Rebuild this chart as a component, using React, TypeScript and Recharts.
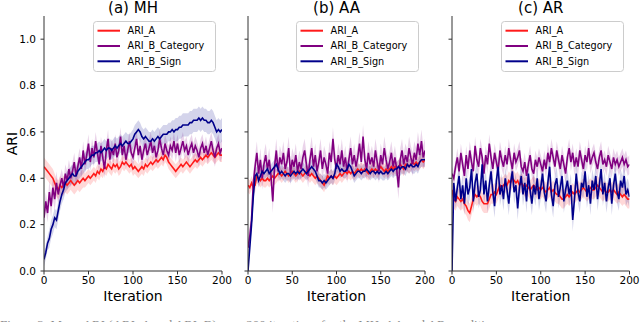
import React from 'react';
import { ComposedChart, Line, Area, XAxis, YAxis, Legend } from 'recharts';

const FONT = 'DejaVu Sans, Verdana, sans-serif';

// iterations (every 2nd iteration)
const ITER = [
  0, 2, 4, 6, 8, 10, 12, 14, 16, 18,
  20, 22, 24, 26, 28, 30, 32, 34, 36, 38,
  40, 42, 44, 46, 48, 50, 52, 54, 56, 58,
  60, 62, 64, 66, 68, 70, 72, 74, 76, 78,
  80, 82, 84, 86, 88, 90, 92, 94, 96, 98,
  100, 102, 104, 106, 108, 110, 112, 114, 116, 118,
  120, 122, 124, 126, 128, 130, 132, 134, 136, 138,
  140, 142, 144, 146, 148, 150, 152, 154, 156, 158,
  160, 162, 164, 166, 168, 170, 172, 174, 176, 178,
  180, 182, 184, 186, 188, 190, 192, 194, 196, 198,
  200,
];

const X_TICKS = [0, 50, 100, 150, 200];
const Y_TICKS = [0, 0.2, 0.4, 0.6, 0.8, 1.0];
const SERIES_NAMES = ['ARI_A', 'ARI_B_Category', 'ARI_B_Sign'];
const COLORS = ['#ff1a1a', '#800080', '#00008b'];

// ---------- (a) MH ----------
const MH_A = [
  .45, .44, .43, .42, .41, .40, .38, .36, .35, .37,
  .36, .37, .38, .37, .38, .39, .38, .37, .38, .39,
  .38, .39, .40, .39, .40, .41, .40, .41, .42, .41,
  .43, .42, .44, .43, .45, .44, .46, .45, .44, .46,
  .45, .46, .44, .45, .47, .46, .47, .46, .45, .46,
  .44, .45, .44, .43, .44, .45, .44, .46, .45, .46,
  .47, .46, .47, .48, .47, .48, .49, .48, .50, .49,
  .47, .46, .45, .44, .43, .44, .45, .46, .45, .46,
  .47, .46, .45, .46, .47, .48, .47, .48, .49, .48,
  .49, .50, .49, .50, .51, .50, .49, .50, .51, .50,
  .50,
];
const MH_CAT = [
  .23, .30, .25, .34, .28, .36, .31, .38, .33, .37,
  .40, .36, .42, .39, .44, .40, .43, .47, .41, .45,
  .49, .44, .52, .46, .50, .55, .47, .53, .49, .56,
  .51, .46, .54, .49, .44, .52, .57, .48, .53, .50,
  .55, .49, .52, .58, .50, .54, .48, .52, .56, .51,
  .49, .53, .57, .50, .54, .48, .52, .55, .50, .53,
  .56, .51, .54, .49, .52, .57, .53, .50, .55, .52,
  .50, .54, .52, .56, .51, .55, .50, .53, .56, .52,
  .54, .50, .53, .55, .51, .54, .52, .49, .53, .55,
  .51, .54, .50, .53, .56, .52, .49, .53, .55, .51,
  .53,
];
const MH_SIGN = [
  .05, .08, .12, .14, .18, .20, .23, .22, .26, .30,
  .33, .35, .38, .39, .40, .41, .42, .41, .41, .43,
  .44, .45, .46, .47, .48, .48, .49, .50, .50, .51,
  .51, .52, .51, .52, .53, .52, .53, .53, .52, .53,
  .54, .53, .54, .55, .54, .55, .56, .55, .55, .56,
  .57, .59, .60, .61, .60, .58, .57, .58, .57, .56,
  .56, .57, .56, .57, .58, .57, .58, .59, .59, .59,
  .60, .60, .61, .60, .61, .61, .62, .62, .63, .63,
  .63, .63, .64, .64, .65, .65, .65, .66, .65, .66,
  .65, .65, .64, .64, .65, .64, .62, .60, .61, .60,
  .61,
];
// spread per 10 iterations
const MH_A_SD = [.04, .04, .04, .04, .04, .03, .03, .03, .03, .03, .03, .03, .03, .03, .03, .03, .03, .03, .03, .03, .03];
const MH_CAT_SD = [.04, .05, .04, .04, .04, .04, .04, .04, .04, .04, .04, .04, .04, .04, .04, .04, .04, .04, .04, .04, .04];
const MH_SIGN_SD = [.03, .04, .04, .04, .04, .04, .04, .04, .04, .04, .04, .04, .04, .04, .04, .05, .05, .05, .05, .05, .05];

// ---------- (b) AA ----------
const AA_A = [
  .37, .36, .38, .36, .37, .41, .40, .39, .40, .39,
  .39, .40, .39, .40, .41, .40, .41, .42, .42, .41,
  .42, .43, .42, .41, .42, .43, .42, .41, .42, .43,
  .42, .41, .42, .43, .42, .41, .42, .41, .40, .41,
  .40, .39, .38, .37, .39, .41, .40, .41, .40, .41,
  .40, .41, .42, .41, .42, .43, .42, .43, .42, .43,
  .42, .43, .44, .43, .44, .43, .44, .43, .42, .43,
  .44, .43, .44, .43, .44, .45, .44, .43, .44, .43,
  .44, .45, .44, .45, .44, .45, .46, .45, .44, .46,
  .46, .45, .46, .47, .46, .47, .46, .47, .48, .47,
  .48,
];
const AA_CAT = [
  .10, .15, .22, .38, .45, .51, .42, .48, .40, .46,
  .50, .44, .48, .41, .30, .45, .52, .43, .49, .46,
  .51, .44, .47, .53, .42, .48, .45, .50, .43, .47,
  .44, .49, .52, .46, .41, .48, .53, .45, .50, .43,
  .47, .52, .44, .49, .46, .42, .51, .47, .57, .48,
  .44, .50, .46, .52, .45, .49, .43, .48, .53, .46,
  .50, .45, .49, .55, .47, .58, .48, .44, .51, .46,
  .49, .45, .52, .47, .43, .50, .46, .53, .48, .44,
  .47, .51, .45, .49, .44, .36, .48, .52, .46, .50,
  .47, .53, .49, .46, .51, .48, .55, .50, .56, .49,
  .52,
];
const AA_SIGN = [
  .00, .10, .20, .32, .41, .42, .39, .41, .43, .42,
  .43, .44, .42, .43, .44, .45, .46, .44, .42, .43,
  .42, .41, .42, .42, .41, .42, .43, .42, .43, .42,
  .43, .44, .43, .42, .43, .44, .45, .44, .43, .41,
  .39, .39, .38, .39, .38, .39, .40, .41, .40, .42,
  .46, .45, .43, .44, .43, .43, .44, .46, .45, .43,
  .41, .42, .43, .43, .42, .43, .43, .44, .43, .42,
  .43, .43, .42, .43, .42, .43, .42, .42, .43, .42,
  .43, .44, .43, .44, .44, .45, .44, .45, .45, .44,
  .46, .45, .46, .45, .45, .46, .45, .47, .48, .48,
  .48,
];
const AA_A_SD = [.03, .03, .03, .03, .03, .03, .03, .03, .03, .03, .03, .03, .03, .03, .03, .03, .03, .03, .03, .03, .03];
const AA_CAT_SD = [.05, .05, .05, .05, .05, .05, .05, .05, .05, .05, .05, .05, .05, .05, .05, .05, .05, .05, .05, .05, .05];
const AA_SIGN_SD = [.02, .03, .03, .03, .03, .03, .03, .03, .03, .03, .03, .03, .03, .03, .03, .03, .03, .03, .03, .03, .03];

// ---------- (c) AR ----------
const AR_A = [
  .35, .31, .30, .32, .31, .30, .31, .29, .28, .26,
  .25, .28, .31, .33, .32, .33, .32, .30, .29, .29,
  .29, .31, .33, .33, .34, .33, .35, .37, .36, .37,
  .38, .37, .39, .38, .40, .39, .38, .39, .37, .38,
  .37, .36, .37, .36, .35, .36, .37, .36, .35, .36,
  .35, .36, .35, .34, .35, .36, .34, .35, .34, .33,
  .33, .32, .31, .31, .32, .33, .32, .33, .34, .33,
  .34, .35, .34, .35, .36, .35, .34, .35, .36, .35,
  .35, .36, .37, .36, .35, .34, .35, .34, .34, .35,
  .34, .35, .34, .33, .34, .33, .32, .33, .32, .31,
  .31,
];
const AR_CAT = [
  .42, .40, .45, .49, .43, .51, .46, .41, .50, .44,
  .52, .47, .43, .54, .48, .45, .53, .49, .42, .50,
  .46, .55, .49, .44, .51, .47, .43, .52, .48, .45,
  .50, .46, .53, .48, .44, .51, .47, .49, .52, .45,
  .43, .47, .41, .46, .50, .44, .42, .48, .45, .49,
  .46, .43, .48, .44, .51, .47, .53, .49, .45, .52,
  .48, .44, .50, .46, .42, .49, .53, .47, .51, .45,
  .49, .45, .52, .48, .44, .50, .47, .53, .46, .49,
  .51, .47, .44, .49, .52, .46, .48, .45, .50, .47,
  .44, .49, .46, .48, .45, .47, .49, .46, .48, .45,
  .46,
];
const AR_SIGN = [
  .00, .38, .30, .36, .41, .31, .37, .29, .40, .33,
  .36, .44, .30, .38, .42, .32, .35, .46, .33, .39,
  .30, .37, .43, .34, .28, .39, .45, .33, .37, .31,
  .40, .35, .29, .38, .43, .34, .37, .27, .36, .41,
  .33, .38, .30, .42, .35, .29, .37, .33, .40, .31,
  .36, .42, .34, .30, .38, .45, .33, .28, .37, .40,
  .32, .36, .41, .30, .35, .39, .33, .37, .22, .31,
  .42, .34, .30, .38, .36, .43, .32, .37, .29, .39,
  .35, .41, .31, .37, .44, .33, .38, .30, .36, .40,
  .29, .37, .42, .34, .31, .39, .36, .41, .33, .35,
  .32,
];
const AR_A_SD = [.04, .04, .04, .04, .04, .04, .04, .04, .04, .04, .04, .04, .04, .04, .04, .04, .04, .04, .04, .04, .04];
const AR_CAT_SD = [.03, .04, .04, .04, .04, .04, .04, .04, .04, .04, .04, .04, .04, .04, .04, .04, .04, .04, .04, .04, .04];
const AR_SIGN_SD = [.03, .05, .05, .05, .05, .05, .05, .05, .05, .05, .05, .05, .05, .05, .05, .05, .05, .05, .05, .05, .05];

const TITLES = ['(a) MH', '(b) AA', '(c) AR'];
const CAPTION = 'Figure 3: Mean ARI (ARI_A and ARI_B) over 200 iterations for the MH, AA and AR conditions.';

type Panel = {
  title: string;
  left: number;
  plotW: number;
  showYLabels: boolean;
  series: number[][];
  sds: number[][];
};

const PANELS: Panel[] = [
  { title: TITLES[0], left: 0, plotW: 178, showYLabels: true, series: [MH_A, MH_CAT, MH_SIGN], sds: [MH_A_SD, MH_CAT_SD, MH_SIGN_SD] },
  { title: TITLES[1], left: 204, plotW: 177, showYLabels: false, series: [AA_A, AA_CAT, AA_SIGN], sds: [AA_A_SD, AA_CAT_SD, AA_SIGN_SD] },
  { title: TITLES[2], left: 408, plotW: 177.5, showYLabels: false, series: [AR_A, AR_CAT, AR_SIGN], sds: [AR_A_SD, AR_CAT_SD, AR_SIGN_SD] },
];

const KEYS = ['a', 'c', 's'];

function buildRows(p: Panel) {
  return ITER.map((it, i) => {
    const row: any = { it };
    const b = Math.round(it / 10);
    KEYS.forEach((k, j) => {
      const v = p.series[j][i];
      const sd = p.sds[j][b];
      row[k] = v;
      row[k + 'Band'] = [Math.max(0, v - sd), v + sd];
    });
    return row;
  });
}

function LegendBox() {
  return (
    <svg width={123} height={51} style={{ display: 'block' }}>
      <rect x={0.5} y={0.5} width={122} height={50} rx={3} fill="rgba(255,255,255,0.8)" stroke="#cccccc" strokeWidth={1} />
      {SERIES_NAMES.map((n, i) => (
        <g key={n}>
          <line x1={4.5} x2={27} y1={9.7 + 15.3 * i} y2={9.7 + 15.3 * i} stroke={COLORS[i]} strokeWidth={2} />
          <text x={34.5} y={9.7 + 15.3 * i} dy="0.36em" fontSize={9.7} fontFamily={FONT} fill="#000">
            {n}
          </text>
        </g>
      ))}
    </svg>
  );
}

const PLOT_LEFT = 44; // relative to chart div
const TOP = 16;
const AXIS_Y = 271;
const H = 322;
const RIGHT_PAD = 12;

function PanelChart({ p }: { p: Panel }) {
  const data = buildRows(p);
  const W = PLOT_LEFT + p.plotW + RIGHT_PAD;
  const cx = PLOT_LEFT + p.plotW / 2;
  const cy = (TOP + AXIS_Y) / 2;
  const axisColor = '#333333';
  return (
    <div style={{ position: 'absolute', left: p.left, top: 0, width: W, height: H }}>
      <ComposedChart width={W} height={H} data={data} margin={{ top: TOP, right: RIGHT_PAD, bottom: H - AXIS_Y - 30, left: 4 }}>
        <XAxis
          dataKey="it"
          type="number"
          domain={[0, 200]}
          ticks={X_TICKS}
          allowDataOverflow
          height={30}
          tickSize={3.5}
          tickMargin={2}
          stroke={axisColor}
          tickLine={{ stroke: axisColor }}
          axisLine={{ stroke: axisColor, strokeWidth: 1 }}
          tick={{ fill: '#000', fontSize: 10.5, fontFamily: FONT }}
        />
        <XAxis xAxisId="top" orientation="top" type="number" domain={[0, 200]} height={0} tick={false} tickLine={false} axisLine={{ stroke: axisColor, strokeWidth: 1 }} />
        <YAxis
          type="number"
          domain={[0, 1.1]}
          ticks={Y_TICKS}
          allowDataOverflow
          width={40}
          tickSize={3.5}
          tickMargin={4.5}
          stroke={axisColor}
          tickLine={{ stroke: axisColor }}
          axisLine={{ stroke: axisColor, strokeWidth: 1 }}
          tickFormatter={(v: number) => (p.showYLabels ? v.toFixed(1) : '')}
          tick={{ fill: '#000', fontSize: 10.5, fontFamily: FONT }}
        />
        <YAxis yAxisId="right" orientation="right" type="number" domain={[0, 1.1]} width={0} tick={false} tickLine={false} axisLine={{ stroke: axisColor, strokeWidth: 1 }} />
        {KEYS.map((k, j) => (
          <Area
            key={k + 'band'}
            type="linear"
            dataKey={k + 'Band'}
            stroke="none"
            fill={COLORS[j]}
            fillOpacity={0.17}
            isAnimationActive={false}
            activeDot={false}
          />
        ))}
        {KEYS.map((k, j) => (
          <Line
            key={k}
            type="linear"
            dataKey={k}
            stroke={COLORS[j]}
            strokeWidth={1.6}
            dot={false}
            activeDot={false}
            isAnimationActive={false}
          />
        ))}
        <Legend
          layout="vertical"
          align="center"
          verticalAlign="middle"
          content={() => <LegendBox />}
          wrapperStyle={{ left: PLOT_LEFT + p.plotW - 6 - 123, top: 21, width: 123, height: 51 }}
        />
        <text x={cx} y={12.5} textAnchor="middle" fontSize={15} fontFamily={FONT} fill="#000">
          {p.title}
        </text>
        <text x={cx} y={301} textAnchor="middle" fontSize={14} fontFamily={FONT} fill="#000">
          Iteration
        </text>
        {p.showYLabels && (
          <text x={16.5} y={cy} transform={`rotate(-90, 16.5, ${cy})`} textAnchor="middle" fontSize={14} fontFamily={FONT} fill="#000">
            ARI
          </text>
        )}
      </ComposedChart>
    </div>
  );
}

export default function App() {
  return (
    <div style={{ position: 'absolute', left: 0, top: 0, width: 640, height: 322, overflow: 'hidden', background: '#fff' }}>
      {PANELS.map((p) => (
        <PanelChart key={p.title} p={p} />
      ))}
      <svg width={640} height={322} style={{ position: 'absolute', left: 0, top: 0, pointerEvents: 'none' }}>
        <text x={0} y={328.5} fontSize={13} fontFamily="Liberation Serif, serif" fill="#8a8a8a">
          {CAPTION}
        </text>
      </svg>
    </div>
  );
}
